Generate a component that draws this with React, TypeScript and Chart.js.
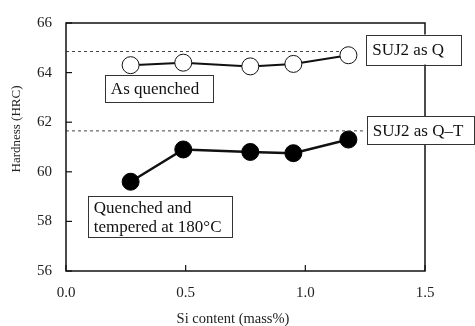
import React, { useEffect, useRef } from "react";
import { Chart, registerables } from "chart.js";

Chart.register(...registerables);

const siQuenched = [0.27, 0.49, 0.77, 0.95, 1.18];
const hrcQuenched = [64.3, 64.4, 64.25, 64.35, 64.7];
const siTempered = [0.27, 0.49, 0.77, 0.95, 1.18];
const hrcTempered = [59.6, 60.9, 60.8, 60.75, 61.3];
const refQ = 64.85;
const refQT = 61.65;
const refQRange = [0, 1.15];
const refQTRange = [0, 1.25];
const xTicks = [0, 0.5, 1.0, 1.5];
const yTicks = [56, 58, 60, 62, 64, 66];
const xTitle = "Si content (mass%)";
const yTitle = "Hardness (HRC)";

type Note = { lines: string[]; x: number; y: number; w: number; h: number };
const notes: Note[] = [
  { lines: ["As quenched"], x: 0.388, y: 63.34, w: 108, h: 27 },
  { lines: ["SUJ2 as Q"], x: 1.453, y: 64.93, w: 95, h: 30 },
  { lines: ["SUJ2 as Q\u2013T"], x: 1.48, y: 61.67, w: 107, h: 28 },
  { lines: ["Quenched and", "tempered at 180\u00B0C"], x: 0.392, y: 58.18, w: 144, h: 41 },
];

const FONT = "'Liberation Serif', 'DejaVu Serif', serif";

const overlay = {
  id: "overlay",
  afterDatasetsDraw(chart: any) {
    const { ctx, chartArea: a, scales } = chart;
    const xs = scales.x;
    const ys = scales.y;
    ctx.save();
    // frame
    ctx.strokeStyle = "#111";
    ctx.lineWidth = 1.5;
    ctx.strokeRect(a.left, a.top, a.right - a.left, a.bottom - a.top);
    // inward ticks
    ctx.lineWidth = 1.2;
    yTicks.forEach((v) => {
      const y = ys.getPixelForValue(v);
      ctx.beginPath();
      ctx.moveTo(a.left, y);
      ctx.lineTo(a.left + 6, y);
      ctx.stroke();
    });
    xTicks.forEach((v) => {
      const x = xs.getPixelForValue(v);
      ctx.beginPath();
      ctx.moveTo(x, a.bottom);
      ctx.lineTo(x, a.bottom - 6);
      ctx.stroke();
    });
    // axis titles
    ctx.fillStyle = "#222";
    ctx.textAlign = "center";
    ctx.textBaseline = "middle";
    ctx.font = "14.5px " + FONT;
    ctx.fillText(xTitle, 233, 319);
    ctx.save();
    ctx.translate(17, 129);
    ctx.rotate(-Math.PI / 2);
    ctx.font = "13px " + FONT;
    ctx.fillText(yTitle, 0, 0);
    ctx.restore();
    // notes
    ctx.font = "17px " + FONT;
    ctx.textAlign = "left";
    ctx.textBaseline = "middle";
    notes.forEach((n) => {
      const cx = xs.getPixelForValue(n.x);
      const cy = ys.getPixelForValue(n.y);
      const l = cx - n.w / 2;
      const t = cy - n.h / 2;
      ctx.fillStyle = "#fff";
      ctx.fillRect(l, t, n.w, n.h);
      ctx.strokeStyle = "#333";
      ctx.lineWidth = 1;
      ctx.strokeRect(Math.round(l) + 0.5, Math.round(t) + 0.5, n.w, n.h);
      ctx.fillStyle = "#111";
      const lh = 19;
      n.lines.forEach((s, i) => {
        const yy = cy - ((n.lines.length - 1) * lh) / 2 + i * lh + 1;
        ctx.fillText(s, l + 6, yy);
      });
    });
    ctx.restore();
  },
};

export default function App() {
  const ref = useRef<HTMLCanvasElement | null>(null);
  useEffect(() => {
    if (!ref.current) return;
    const chart = new Chart(ref.current, {
      type: "scatter",
      data: {
        datasets: [
          {
            label: "SUJ2 as Q",
            data: refQRange.map((x) => ({ x, y: refQ })),
            showLine: true,
            borderColor: "#444",
            borderWidth: 1,
            borderDash: [3, 3],
            pointRadius: 0,
          },
          {
            label: "SUJ2 as Q-T",
            data: refQTRange.map((x) => ({ x, y: refQT })),
            showLine: true,
            borderColor: "#444",
            borderWidth: 1,
            borderDash: [3, 3],
            pointRadius: 0,
          },
          {
            label: "As quenched",
            data: siQuenched.map((x, i) => ({ x, y: hrcQuenched[i] })),
            showLine: true,
            borderColor: "#111",
            borderWidth: 2,
            pointRadius: 8.5,
            pointBackgroundColor: "#fff",
            pointBorderColor: "#111",
            pointBorderWidth: 1,
          },
          {
            label: "Quenched and tempered",
            data: siTempered.map((x, i) => ({ x, y: hrcTempered[i] })),
            showLine: true,
            borderColor: "#111",
            borderWidth: 2.5,
            pointRadius: 8.5,
            pointBackgroundColor: "#000",
            pointBorderColor: "#000",
            pointBorderWidth: 1,
          },
        ],
      },
      options: {
        animation: false,
        responsive: false,
        maintainAspectRatio: false,
        layout: { padding: { left: 0, top: 20, right: 50, bottom: 0 } },
        plugins: { legend: { display: false }, tooltip: { enabled: false } },
        scales: {
          x: {
            type: "linear",
            min: 0,
            max: 1.5,
            afterBuildTicks: (s: any) => {
              s.ticks = xTicks.map((v) => ({ value: v }));
            },
            afterFit: (s: any) => {
              s.height = 55;
            },
            grid: { display: false, drawTicks: false },
            border: { display: false },
            ticks: {
              color: "#222",
              padding: 13,
              font: { family: FONT, size: 15 },
              callback: (v: any) => Number(v).toFixed(1),
            },
          },
          y: {
            type: "linear",
            min: 56,
            max: 66,
            afterBuildTicks: (s: any) => {
              s.ticks = yTicks.map((v) => ({ value: v }));
            },
            afterFit: (s: any) => {
              s.width = 66;
            },
            grid: { display: false, drawTicks: false },
            border: { display: false },
            ticks: {
              color: "#222",
              padding: 14,
              font: { family: FONT, size: 15 },
            },
          },
        },
      },
      plugins: [overlay],
    } as any);
    return () => chart.destroy();
  }, []);
  return (
    <div style={{ position: "absolute", left: 0, top: 0, width: 475, height: 326, background: "#fff" }}>
      <canvas ref={ref} width={475} height={326} style={{ width: 475, height: 326 }} />
    </div>
  );
}
